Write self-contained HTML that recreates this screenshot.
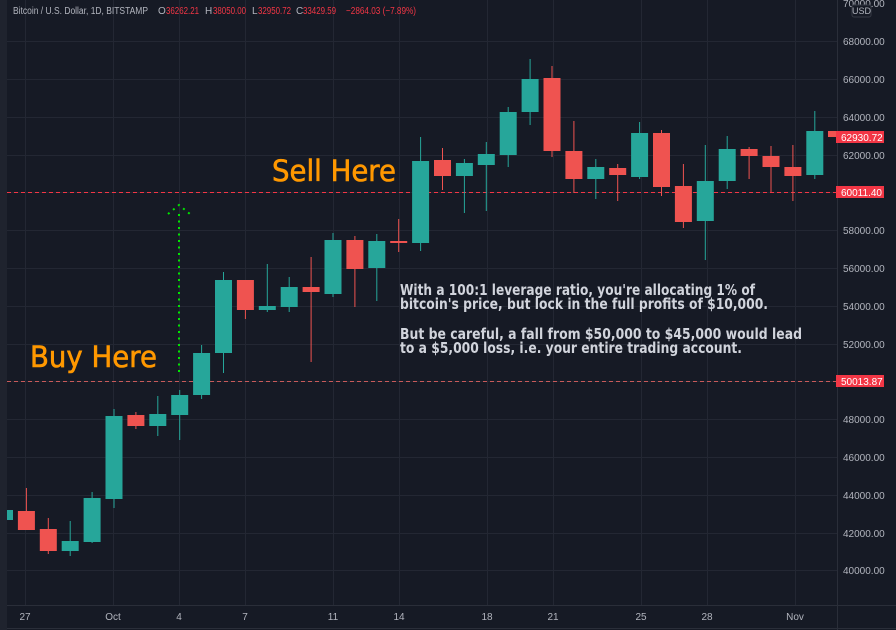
<!DOCTYPE html>
<html><head><meta charset="utf-8"><style>
html,body{margin:0;padding:0;background:#161a25;}
svg{display:block;}
</style></head><body>
<svg width="896" height="630" viewBox="0 0 896 630" xmlns="http://www.w3.org/2000/svg" font-family="Liberation Sans, sans-serif">
<rect x="0" y="0" width="896" height="630" fill="#161a25"/>
<g stroke="#232733" stroke-width="1">
<line x1="7" y1="41.5" x2="837" y2="41.5"/><line x1="7" y1="79.5" x2="837" y2="79.5"/><line x1="7" y1="117.5" x2="837" y2="117.5"/><line x1="7" y1="155.5" x2="837" y2="155.5"/><line x1="7" y1="192.5" x2="837" y2="192.5"/><line x1="7" y1="230.5" x2="837" y2="230.5"/><line x1="7" y1="268.5" x2="837" y2="268.5"/><line x1="7" y1="306.5" x2="837" y2="306.5"/><line x1="7" y1="344.5" x2="837" y2="344.5"/><line x1="7" y1="381.5" x2="837" y2="381.5"/><line x1="7" y1="419.5" x2="837" y2="419.5"/><line x1="7" y1="457.5" x2="837" y2="457.5"/><line x1="7" y1="495.5" x2="837" y2="495.5"/><line x1="7" y1="533.5" x2="837" y2="533.5"/><line x1="7" y1="570.5" x2="837" y2="570.5"/>
<line x1="25.5" y1="0" x2="25.5" y2="605"/><line x1="113.5" y1="0" x2="113.5" y2="605"/><line x1="179.5" y1="0" x2="179.5" y2="605"/><line x1="245.5" y1="0" x2="245.5" y2="605"/><line x1="333.5" y1="0" x2="333.5" y2="605"/><line x1="399.5" y1="0" x2="399.5" y2="605"/><line x1="487.5" y1="0" x2="487.5" y2="605"/><line x1="553.5" y1="0" x2="553.5" y2="605"/><line x1="641.5" y1="0" x2="641.5" y2="605"/><line x1="707.5" y1="0" x2="707.5" y2="605"/><line x1="795.5" y1="0" x2="795.5" y2="605"/>
</g>
<line x1="837.5" y1="0" x2="837.5" y2="630" stroke="#2a2e39"/>
<line x1="7" y1="605.5" x2="896" y2="605.5" stroke="#2a2e39"/>
<line x1="7" y1="628.5" x2="896" y2="628.5" stroke="#2a2e39"/>
<line x1="0" y1="192.5" x2="837" y2="192.5" stroke="#f23645" stroke-dasharray="4,3"/>
<line x1="0" y1="381.5" x2="837" y2="381.5" stroke="#c85a5a" stroke-dasharray="4,3"/>
<g stroke="#00e600" stroke-width="2" stroke-dasharray="2,4.5" fill="none">
<line x1="179" y1="214" x2="179" y2="372"/>
<polyline points="168,214 179,205 190,214"/>
</g>
<g stroke-width="1">
<g stroke="#26a69a" fill="#26a69a">
<line x1="4.5" y1="508" x2="4.5" y2="522"/><rect x="-4" y="510" width="17" height="10" stroke="none"/>
<line x1="70.2" y1="521" x2="70.2" y2="556"/><rect x="61.7" y="541" width="17" height="10" stroke="none"/>
<line x1="92.1" y1="492" x2="92.1" y2="543"/><rect x="83.6" y="498" width="17" height="44" stroke="none"/>
<line x1="114" y1="409" x2="114" y2="508"/><rect x="105.5" y="416" width="17" height="83" stroke="none"/>
<line x1="157.8" y1="396" x2="157.8" y2="436"/><rect x="149.3" y="414" width="17" height="12" stroke="none"/>
<line x1="179.7" y1="390" x2="179.7" y2="440"/><rect x="171.2" y="395" width="17" height="20" stroke="none"/>
<line x1="201.6" y1="345" x2="201.6" y2="399"/><rect x="193.1" y="353" width="17" height="42" stroke="none"/>
<line x1="223.5" y1="272" x2="223.5" y2="373"/><rect x="215" y="280" width="17" height="73" stroke="none"/>
<line x1="267.3" y1="264" x2="267.3" y2="312"/><rect x="258.8" y="306" width="17" height="4" stroke="none"/>
<line x1="289.2" y1="277" x2="289.2" y2="312"/><rect x="280.7" y="287" width="17" height="20" stroke="none"/>
<line x1="333" y1="233" x2="333" y2="297"/><rect x="324.5" y="240" width="17" height="54" stroke="none"/>
<line x1="376.8" y1="234" x2="376.8" y2="301"/><rect x="368.3" y="241" width="17" height="27" stroke="none"/>
<line x1="420.6" y1="137" x2="420.6" y2="251"/><rect x="412.1" y="161" width="17" height="82" stroke="none"/>
<line x1="464.4" y1="159" x2="464.4" y2="213"/><rect x="455.9" y="163" width="17" height="13" stroke="none"/>
<line x1="486.3" y1="142" x2="486.3" y2="211"/><rect x="477.8" y="154" width="17" height="11" stroke="none"/>
<line x1="508.2" y1="107" x2="508.2" y2="167"/><rect x="499.7" y="112" width="17" height="43" stroke="none"/>
<line x1="530.1" y1="59" x2="530.1" y2="125"/><rect x="521.6" y="79" width="17" height="33" stroke="none"/>
<line x1="595.8" y1="159" x2="595.8" y2="199"/><rect x="587.3" y="167" width="17" height="12" stroke="none"/>
<line x1="639.6" y1="122" x2="639.6" y2="179"/><rect x="631.1" y="133" width="17" height="44" stroke="none"/>
<line x1="705.3" y1="145" x2="705.3" y2="260"/><rect x="696.8" y="181" width="17" height="40" stroke="none"/>
<line x1="727.2" y1="136" x2="727.2" y2="189"/><rect x="718.7" y="149" width="17" height="32" stroke="none"/>
<line x1="814.8" y1="111" x2="814.8" y2="179"/><rect x="806.3" y="131" width="17" height="44" stroke="none"/>
</g>
<g stroke="#ef5350" fill="#ef5350">
<line x1="26.4" y1="488" x2="26.4" y2="530"/><rect x="17.9" y="511" width="17" height="19" stroke="none"/>
<line x1="48.3" y1="518" x2="48.3" y2="554"/><rect x="39.8" y="529" width="17" height="22" stroke="none"/>
<line x1="135.9" y1="412" x2="135.9" y2="429"/><rect x="127.4" y="415" width="17" height="11" stroke="none"/>
<line x1="245.4" y1="280" x2="245.4" y2="319"/><rect x="236.9" y="280" width="17" height="30" stroke="none"/>
<line x1="311.1" y1="257" x2="311.1" y2="362"/><rect x="302.6" y="287" width="17" height="5" stroke="none"/>
<line x1="354.9" y1="236" x2="354.9" y2="307"/><rect x="346.4" y="240" width="17" height="29" stroke="none"/>
<line x1="398.7" y1="219" x2="398.7" y2="252"/><rect x="390.2" y="241" width="17" height="2" stroke="none"/>
<line x1="442.5" y1="148" x2="442.5" y2="190"/><rect x="434" y="160" width="17" height="16" stroke="none"/>
<line x1="552" y1="66" x2="552" y2="157"/><rect x="543.5" y="78" width="17" height="73" stroke="none"/>
<line x1="573.9" y1="121" x2="573.9" y2="193"/><rect x="565.4" y="151" width="17" height="28" stroke="none"/>
<line x1="617.7" y1="164" x2="617.7" y2="201"/><rect x="609.2" y="168" width="17" height="7" stroke="none"/>
<line x1="661.5" y1="130" x2="661.5" y2="196"/><rect x="653" y="133" width="17" height="54" stroke="none"/>
<line x1="683.4" y1="164" x2="683.4" y2="228"/><rect x="674.9" y="186" width="17" height="36" stroke="none"/>
<line x1="749.1" y1="147" x2="749.1" y2="179"/><rect x="740.6" y="149" width="17" height="7" stroke="none"/>
<line x1="771" y1="146" x2="771" y2="192"/><rect x="762.5" y="156" width="17" height="11" stroke="none"/>
<line x1="792.9" y1="145" x2="792.9" y2="201"/><rect x="784.4" y="167" width="17" height="9" stroke="none"/>
<rect x="828" y="131" width="9" height="6" stroke="none"/>
</g>
</g>
<rect x="0" y="0" width="7" height="630" fill="#1f232e"/>
<text x="30" y="367" font-size="29" fill="#ff9800" stroke="#ff9800" stroke-width="0.6" font-family="DejaVu Sans, sans-serif" textLength="127" lengthAdjust="spacingAndGlyphs">Buy Here</text>
<text x="272" y="181" font-size="29" fill="#ff9800" stroke="#ff9800" stroke-width="0.6" font-family="DejaVu Sans, sans-serif" textLength="124" lengthAdjust="spacingAndGlyphs">Sell Here</text>
<g fill="#d1d4dc" font-size="15" font-weight="bold" font-family="DejaVu Sans, sans-serif">
<text x="400" y="295" textLength="355" lengthAdjust="spacingAndGlyphs">With a 100:1 leverage ratio, you're allocating 1% of</text>
<text x="400" y="309" textLength="368" lengthAdjust="spacingAndGlyphs">bitcoin's price, but lock in the full profits of $10,000.</text>
<text x="400" y="339" textLength="402" lengthAdjust="spacingAndGlyphs">But be careful, a fall from $50,000 to $45,000 would lead</text>
<text x="400" y="353" textLength="342" lengthAdjust="spacingAndGlyphs">to a $5,000 loss, i.e. your entire trading account.</text>
</g>
<g font-size="10" fill="#b2b5be">
<text x="13" y="14" textLength="135" lengthAdjust="spacingAndGlyphs">Bitcoin / U.S. Dollar, 1D, BITSTAMP</text>
<text x="158" y="14">O</text><text x="166" y="14" fill="#f23645" textLength="33" lengthAdjust="spacingAndGlyphs">36262.21</text>
<text x="205" y="14">H</text><text x="213" y="14" fill="#f23645" textLength="33" lengthAdjust="spacingAndGlyphs">38050.00</text>
<text x="252" y="14">L</text><text x="258" y="14" fill="#f23645" textLength="33" lengthAdjust="spacingAndGlyphs">32950.72</text>
<text x="296" y="14">C</text><text x="303" y="14" fill="#f23645" textLength="33" lengthAdjust="spacingAndGlyphs">33429.59</text>
<text x="346" y="14" fill="#f23645" textLength="70" lengthAdjust="spacingAndGlyphs">−2864.03 (−7.89%)</text>
</g>
<g font-size="10" fill="#b2b5be" text-anchor="start">
<text x="843" y="7">70000.00</text>
<text x="843" y="45">68000.00</text><text x="843" y="83">66000.00</text><text x="843" y="121">64000.00</text><text x="843" y="159">62000.00</text><text x="843" y="234">58000.00</text><text x="843" y="272">56000.00</text><text x="843" y="310">54000.00</text><text x="843" y="348">52000.00</text><text x="843" y="423">48000.00</text><text x="843" y="461">46000.00</text><text x="843" y="499">44000.00</text><text x="843" y="537">42000.00</text><text x="843" y="574">40000.00</text>
</g>
<rect x="852" y="5" width="19" height="12" rx="2" fill="#161a25" stroke="#363a45"/>
<text x="861.5" y="14" font-size="9" fill="#b2b5be" text-anchor="middle">USD</text>
<rect x="836" y="131" width="48" height="12" fill="#f23645"/>
<text x="841" y="141" font-size="10" fill="#fff">62930.72</text>
<rect x="836" y="186" width="48" height="12" fill="#f23645"/>
<text x="841" y="196" font-size="10" fill="#fff">60011.40</text>
<rect x="836" y="375" width="48" height="12" fill="#f23645"/>
<text x="841" y="385" font-size="10" fill="#fff">50013.87</text>
<g font-size="10" fill="#b2b5be" text-anchor="middle">
<text x="25" y="620">27</text><text x="113" y="620">Oct</text><text x="179" y="620">4</text><text x="245" y="620">7</text><text x="333" y="620">11</text><text x="399" y="620">14</text><text x="487" y="620">18</text><text x="553" y="620">21</text><text x="641" y="620">25</text><text x="707" y="620">28</text><text x="795" y="620">Nov</text>
</g>
</svg>
</body></html>
